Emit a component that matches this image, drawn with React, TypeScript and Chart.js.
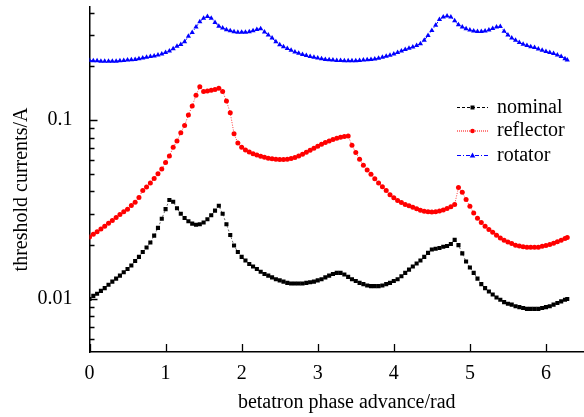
import React, { useEffect, useRef } from 'react';
import { Chart, registerables } from 'chart.js';

Chart.register(...registerables);

// ---- data -------------------------------------------------------------
const PHASE = [
  0.00, 0.05, 0.10, 0.15, 0.20, 0.25, 0.30, 0.35, 0.40, 0.45,
  0.50, 0.55, 0.60, 0.65, 0.70, 0.75, 0.80, 0.85, 0.90, 0.95,
  1.00, 1.05, 1.10, 1.15, 1.20, 1.25, 1.30, 1.35, 1.40, 1.45,
  1.50, 1.55, 1.60, 1.65, 1.70, 1.75, 1.80, 1.85, 1.90, 1.95,
  2.00, 2.05, 2.10, 2.15, 2.20, 2.25, 2.30, 2.35, 2.40, 2.45,
  2.50, 2.55, 2.60, 2.65, 2.70, 2.75, 2.80, 2.85, 2.90, 2.95,
  3.00, 3.05, 3.10, 3.15, 3.20, 3.25, 3.30, 3.35, 3.40, 3.45,
  3.50, 3.55, 3.60, 3.65, 3.70, 3.75, 3.80, 3.85, 3.90, 3.95,
  4.00, 4.05, 4.10, 4.15, 4.20, 4.25, 4.30, 4.35, 4.40, 4.45,
  4.50, 4.55, 4.60, 4.65, 4.70, 4.75, 4.80, 4.85, 4.90, 4.95,
  5.00, 5.05, 5.10, 5.15, 5.20, 5.25, 5.30, 5.35, 5.40, 5.45,
  5.50, 5.55, 5.60, 5.65, 5.70, 5.75, 5.80, 5.85, 5.90, 5.95,
  6.00, 6.05, 6.10, 6.15, 6.20, 6.25, 6.28,
];

const NOMINAL = [
  0.0100, 0.0104, 0.0107, 0.0111, 0.0115, 0.0120, 0.0125, 0.0130, 0.0135, 0.0141,
  0.0147, 0.0154, 0.0163, 0.0172, 0.0183, 0.0194, 0.0207, 0.0226, 0.0250, 0.0281,
  0.0318, 0.0358, 0.0350, 0.0322, 0.0300, 0.0284, 0.0272, 0.0264, 0.0260, 0.0262,
  0.0268, 0.0279, 0.0294, 0.0312, 0.0332, 0.0300, 0.0262, 0.0228, 0.0199, 0.0183,
  0.0172, 0.0164, 0.0157, 0.0152, 0.0147, 0.0142, 0.0138, 0.0135, 0.0132, 0.0129,
  0.0127, 0.0125, 0.0123, 0.0122, 0.0122, 0.0122, 0.0122, 0.0123, 0.0124, 0.0125,
  0.0127, 0.0129, 0.0132, 0.0135, 0.0138, 0.0140, 0.0140, 0.0137, 0.0133, 0.0129,
  0.0126, 0.0123, 0.0121, 0.0119, 0.0118, 0.0118, 0.0118, 0.0119, 0.0121, 0.0123,
  0.0126, 0.0129, 0.0134, 0.0140, 0.0146, 0.0152, 0.0158, 0.0164, 0.0172, 0.0181,
  0.0189, 0.0191, 0.0193, 0.0196, 0.0198, 0.0203, 0.0214, 0.0200, 0.0180, 0.0162,
  0.0150, 0.0140, 0.0130, 0.0121, 0.0115, 0.0110, 0.0106, 0.0102, 0.0099, 0.0096,
  0.0094, 0.0093, 0.0091, 0.0090, 0.0089, 0.0088, 0.0088, 0.0088, 0.0088, 0.0089,
  0.0090, 0.0091, 0.0093, 0.0095, 0.0097, 0.0099, 0.0100,
];

const REFLECTOR = [
  0.0222, 0.0230, 0.0238, 0.0246, 0.0255, 0.0265, 0.0275, 0.0286, 0.0297, 0.0308,
  0.0318, 0.0333, 0.0348, 0.0370, 0.0405, 0.0423, 0.0445, 0.0472, 0.0502, 0.0533,
  0.0580, 0.0630, 0.0705, 0.0765, 0.0850, 0.0935, 0.1070, 0.1200, 0.1380, 0.1540,
  0.1450, 0.1455, 0.1470, 0.1485, 0.1510, 0.1450, 0.1280, 0.1100, 0.0840, 0.0745,
  0.0705, 0.0682, 0.0665, 0.0650, 0.0638, 0.0628, 0.0620, 0.0613, 0.0608, 0.0604,
  0.0602, 0.0602, 0.0605, 0.0610, 0.0618, 0.0630, 0.0645, 0.0662, 0.0680, 0.0698,
  0.0716, 0.0733, 0.0750, 0.0765, 0.0780, 0.0792, 0.0802, 0.0810, 0.0815, 0.0725,
  0.0660, 0.0605, 0.0560, 0.0526, 0.0498, 0.0470, 0.0446, 0.0424, 0.0404, 0.0383,
  0.0368, 0.0356, 0.0346, 0.0338, 0.0332, 0.0326, 0.0320, 0.0314, 0.0310, 0.0308,
  0.0307, 0.0308, 0.0311, 0.0315, 0.0321, 0.0328, 0.0338, 0.0420, 0.0395, 0.0360,
  0.0330, 0.0303, 0.0283, 0.0268, 0.0255, 0.0245, 0.0236, 0.0227, 0.0219, 0.0213,
  0.0208, 0.0204, 0.0200, 0.0198, 0.0196, 0.0195, 0.0195, 0.0195, 0.0195, 0.0197,
  0.0199, 0.0202, 0.0205, 0.0209, 0.0213, 0.0218, 0.0221,
];

const ROTATOR = [
  0.216, 0.215, 0.215, 0.214, 0.214, 0.214, 0.214, 0.214, 0.215, 0.216,
  0.217, 0.218, 0.219, 0.221, 0.223, 0.225, 0.227, 0.229, 0.232, 0.235,
  0.239, 0.244, 0.251, 0.259, 0.265, 0.275, 0.295, 0.310, 0.332, 0.356,
  0.372, 0.381, 0.372, 0.352, 0.336, 0.328, 0.321, 0.317, 0.313, 0.311,
  0.311, 0.311, 0.313, 0.317, 0.322, 0.325, 0.312, 0.300, 0.288, 0.275,
  0.264, 0.258, 0.252, 0.246, 0.241, 0.237, 0.233, 0.230, 0.227, 0.225,
  0.223, 0.221, 0.219, 0.218, 0.217, 0.216, 0.216, 0.215, 0.215, 0.215,
  0.215, 0.216, 0.217, 0.218, 0.219, 0.220, 0.222, 0.225, 0.228, 0.231,
  0.235, 0.239, 0.244, 0.249, 0.253, 0.257, 0.262, 0.268, 0.280, 0.298,
  0.318, 0.340, 0.366, 0.378, 0.383, 0.378, 0.360, 0.342, 0.332, 0.325,
  0.320, 0.316, 0.314, 0.314, 0.316, 0.320, 0.326, 0.332, 0.334, 0.315,
  0.300, 0.288, 0.280, 0.272, 0.266, 0.262, 0.258, 0.255, 0.250, 0.246,
  0.242, 0.239, 0.236, 0.232, 0.227, 0.221, 0.217,
];

const SERIES_LABELS = ['nominal', 'reflector', 'rotator'];
const X_TICKS = [0, 1, 2, 3, 4, 5, 6];
const Y_TICKS = [
  0.006, 0.007, 0.008, 0.009, 0.01,
  0.02, 0.03, 0.04, 0.05, 0.06, 0.07, 0.08, 0.09, 0.1,
  0.2, 0.3, 0.4,
];
const Y_LABELED = [0.01, 0.1];
const X_TITLE = 'betatron phase advance/rad';
const Y_TITLE = 'threshold currents/A';

// ---- styling ----------------------------------------------------------
const FONT = "'Liberation Serif', 'Times New Roman', serif";

const innerTicks = {
  id: 'innerTicks',
  afterDraw(chart: any) {
    const { ctx, chartArea, scales } = chart;
    const x = scales.x;
    const y = scales.y;
    ctx.save();
    ctx.strokeStyle = '#000';
    ctx.lineWidth = 1.3;
    ctx.beginPath();
    for (const v of Y_TICKS) {
      const py = Math.round(y.getPixelForValue(v)) + 0.5;
      const len = Y_LABELED.includes(v) ? 8 : 5;
      ctx.moveTo(chartArea.left, py);
      ctx.lineTo(chartArea.left + len, py);
    }
    for (const v of X_TICKS) {
      const px = Math.round(x.getPixelForValue(v)) + 0.5;
      ctx.moveTo(px, chartArea.bottom);
      ctx.lineTo(px, chartArea.bottom - 8);
    }
    ctx.stroke();
    ctx.restore();
  },
};

function drawMarker(ctx: CanvasRenderingContext2D, style: string, cx: number, cy: number) {
  ctx.beginPath();
  if (style === 'rect') {
    ctx.rect(cx - 2, cy - 2, 4, 4);
  } else if (style === 'triangle') {
    ctx.moveTo(cx, cy - 3);
    ctx.lineTo(cx + 2.8, cy + 2);
    ctx.lineTo(cx - 2.8, cy + 2);
    ctx.closePath();
  } else {
    ctx.arc(cx, cy, 2.3, 0, Math.PI * 2);
  }
  ctx.fill();
}

const insideLegend = {
  id: 'insideLegend',
  afterDraw(chart: any) {
    const { ctx } = chart;
    const x0 = 457;
    const x1 = 488;
    const textX = 497;
    const rowY = [107.5, 131, 155.5];
    ctx.save();
    chart.data.datasets.forEach((ds: any, i: number) => {
      const cy = rowY[i];
      ctx.strokeStyle = ds.borderColor;
      ctx.lineWidth = 1;
      ctx.setLineDash(ds.legendDash);
      ctx.beginPath();
      ctx.moveTo(x0, cy);
      ctx.lineTo(x1, cy);
      ctx.stroke();
      ctx.setLineDash([]);
      ctx.fillStyle = ds.borderColor;
      drawMarker(ctx, ds.pointStyle, (x0 + x1) / 2, cy);
      ctx.fillStyle = '#000';
      ctx.font = `20px ${FONT}`;
      ctx.textAlign = 'left';
      ctx.textBaseline = 'middle';
      ctx.fillText(ds.label, textX, cy);
    });
    ctx.restore();
  },
};

export default function App() {
  const canvasRef = useRef<HTMLCanvasElement | null>(null);

  useEffect(() => {
    const canvas = canvasRef.current;
    if (!canvas) return;
    const toPoints = (ys: number[]) => PHASE.map((x, i) => ({ x, y: ys[i] }));

    const chart = new Chart(canvas, {
      type: 'line',
      data: {
        datasets: [
          {
            label: SERIES_LABELS[0],
            data: toPoints(NOMINAL),
            borderColor: '#000000',
            backgroundColor: '#000000',
            borderWidth: 0.6,
            borderDash: [2, 2],
            pointStyle: 'rect',
            pointRadius: 2.9,
            pointBorderWidth: 0,
            pointBackgroundColor: '#000000',
            legendDash: [3, 2],
          } as any,
          {
            label: SERIES_LABELS[1],
            data: toPoints(REFLECTOR),
            borderColor: '#ff0000',
            backgroundColor: '#ff0000',
            borderWidth: 0.8,
            borderDash: [1, 1.5],
            pointStyle: 'circle',
            pointRadius: 2.5,
            pointBorderWidth: 0,
            pointBackgroundColor: '#ff0000',
            legendDash: [1, 1],
          } as any,
          {
            label: SERIES_LABELS[2],
            data: toPoints(ROTATOR),
            borderColor: '#0000ff',
            backgroundColor: '#0000ff',
            borderWidth: 1,
            borderDash: [4, 2, 1, 2],
            pointStyle: 'triangle',
            pointRadius: 3,
            pointBorderWidth: 0,
            pointBackgroundColor: '#0000ff',
            legendDash: [4, 2, 1, 2],
          } as any,
        ],
      },
      options: {
        responsive: false,
        animation: false,
        events: [],
        layout: { autoPadding: false, padding: { left: 0, right: 0, top: 7, bottom: 0 } },
        plugins: {
          legend: { display: false },
          tooltip: { enabled: false },
        },
        scales: {
          x: {
            type: 'linear',
            min: 0,
            max: 6.5,
            afterBuildTicks: (s: any) => {
              s.ticks = X_TICKS.map((v) => ({ value: v }));
            },
            afterFit: (s: any) => {
              s.height = 65;
              s.paddingLeft = 0;
              s.paddingRight = 0;
            },
            grid: { display: false, drawTicks: false },
            border: { display: true, color: '#000', width: 1.5 },
            ticks: {
              color: '#000',
              font: { family: FONT, size: 20 },
              padding: 10,
              maxRotation: 0,
              autoSkip: false,
              callback: (v: any) => String(v),
            },
            title: {
              display: true,
              text: '    ' + X_TITLE,
              color: '#000',
              font: { family: FONT, size: 20 },
              padding: { top: 0, bottom: 2 },
            },
          },
          y: {
            type: 'logarithmic',
            min: 0.00505,
            max: 0.43,
            afterBuildTicks: (s: any) => {
              s.ticks = Y_TICKS.map((v) => ({ value: v }));
            },
            afterFit: (s: any) => {
              s.width = 89.5;
              s.paddingTop = 0;
              s.paddingBottom = 0;
            },
            grid: { display: false, drawTicks: false },
            border: { display: true, color: '#000', width: 1.5 },
            ticks: {
              color: '#000',
              font: { family: FONT, size: 20 },
              padding: 17,
              autoSkip: false,
              callback: (v: any) => (Y_LABELED.includes(v) ? String(v) : ''),
            },
            title: {
              display: true,
              text: Y_TITLE + '    ',
              color: '#000',
              font: { family: FONT, size: 20 },
              padding: { top: 10, bottom: 0 },
            },
          },
        },
      },
      plugins: [innerTicks, insideLegend],
    });

    return () => chart.destroy();
  }, []);

  return (
    <div style={{ position: 'absolute', left: 0, top: 0, width: 584, height: 417, background: '#fff' }}>
      <canvas ref={canvasRef} width={584} height={417} style={{ display: 'block' }} />
    </div>
  );
}
